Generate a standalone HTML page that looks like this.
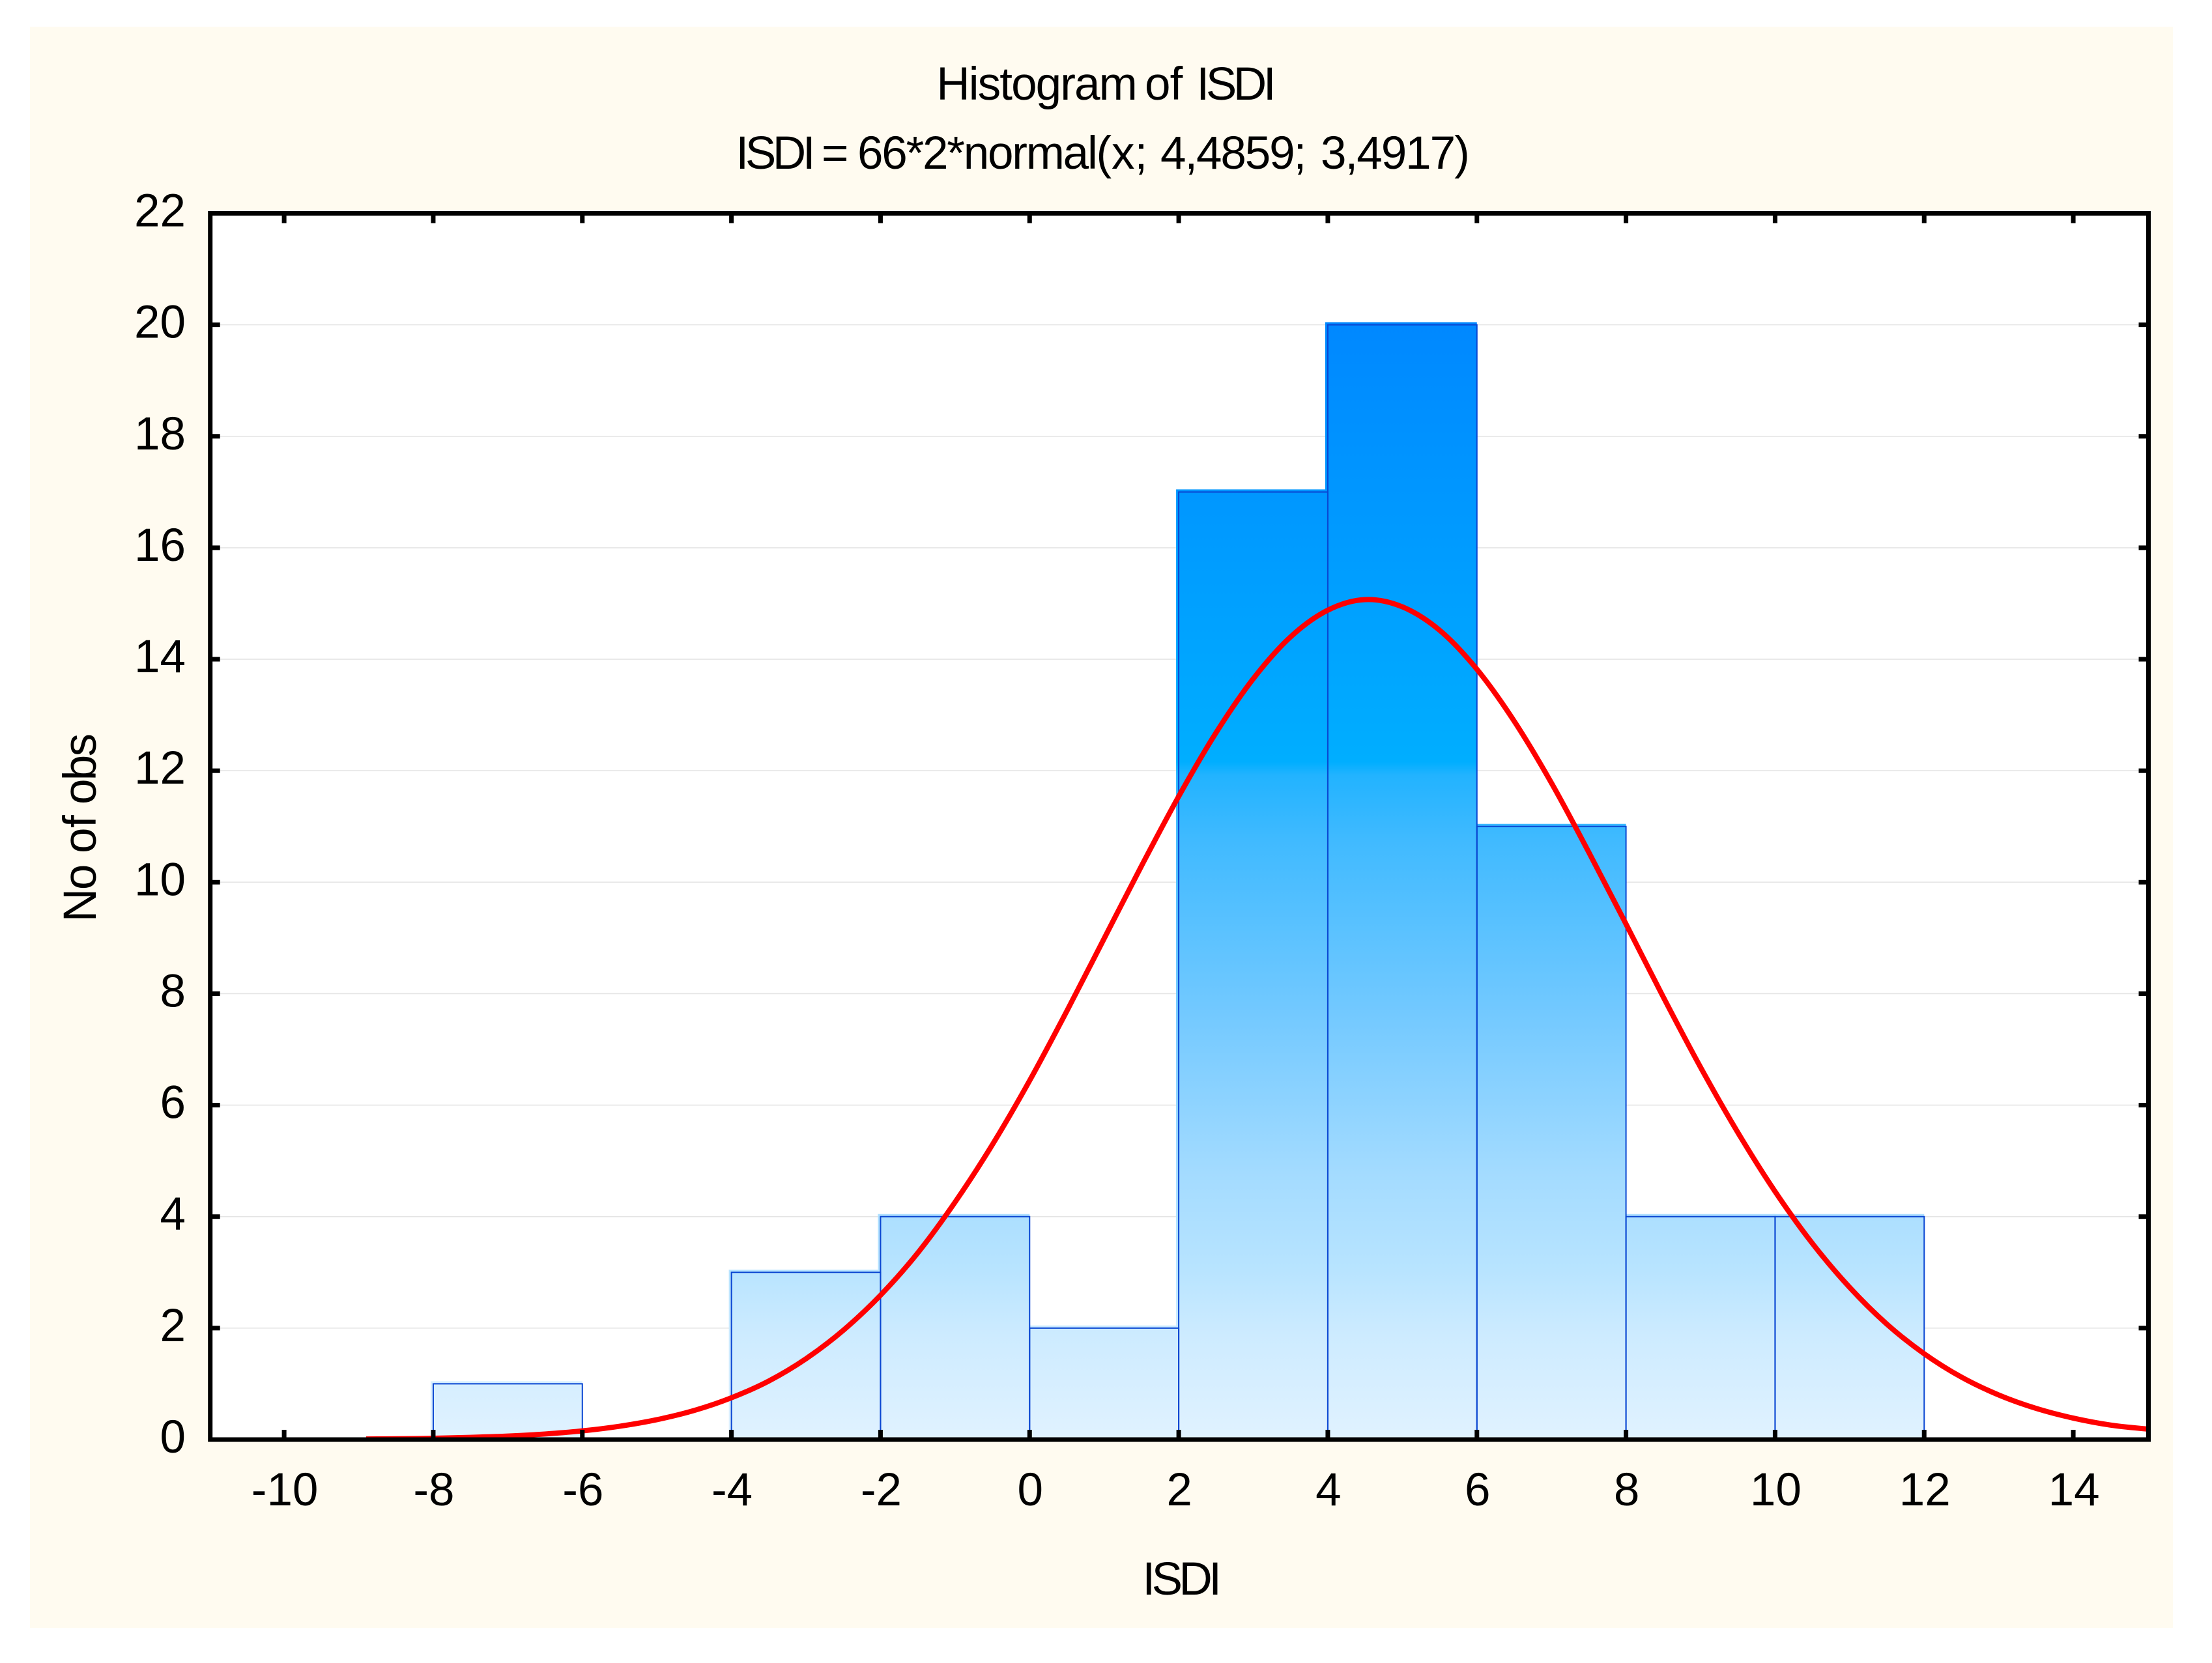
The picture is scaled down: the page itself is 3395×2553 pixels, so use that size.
<!DOCTYPE html>
<html lang="en">
<head>
<meta charset="utf-8">
<title>Histogram of ISDI</title>
<style>
  html, body { margin: 0; padding: 0; background: #ffffff; }
  svg { display: block; }
  text { font-family: "Liberation Sans", Arial, sans-serif; fill: #000; white-space: pre; }
</style>
</head>
<body>
<svg id="chart" xmlns="http://www.w3.org/2000/svg" width="3395" height="2553" viewBox="0 0 3395 2553">
  <defs>
    <linearGradient id="barFill" gradientUnits="userSpaceOnUse" x1="0" y1="498" x2="0" y2="2207">
      <stop offset="0" stop-color="#0088ff"/>
      <stop offset="0.393" stop-color="#00aeff"/>
      <stop offset="0.405" stop-color="#22b3ff"/>
      <stop offset="0.463" stop-color="#40baff"/>
      <stop offset="0.62" stop-color="#73c9ff"/>
      <stop offset="0.762" stop-color="#a3dbff"/>
      <stop offset="0.85" stop-color="#b8e4ff"/>
      <stop offset="0.908" stop-color="#cdebff"/>
      <stop offset="1" stop-color="#e0f2ff"/>
    </linearGradient>
    <clipPath id="plotClip"><rect x="322.7" y="327.5" width="2974.8" height="1882.5"/></clipPath>
  </defs>
  <rect x="0" y="0" width="3395" height="2553" fill="#ffffff"/>
  <rect x="46" y="41" width="3289" height="2458" fill="#fffbf0"/>
  <rect x="322.7" y="327.5" width="2974.8" height="1882.5" fill="#ffffff"/>

  <g id="grid"></g>
  <g id="bars"></g>
  <g id="curve" clip-path="url(#plotClip)"></g>
  <rect x="322.7" y="327.5" width="2974.8" height="1882.5" fill="none" stroke="#000" stroke-width="7"/>
  <g id="ticks"></g>
  <g id="xLabels"></g>
  <g id="yLabels"></g>

  <text y="153" font-size="71"><tspan x="1437.4" letter-spacing="-1.9">Histogram </tspan><tspan x="1757" letter-spacing="-0.8">of  </tspan><tspan x="1836.4" letter-spacing="-5.3">ISDI</tspan></text>
  <text y="259" font-size="71"><tspan x="1129.4" letter-spacing="-5.3">ISDI </tspan><tspan x="1261">= </tspan><tspan x="1316" letter-spacing="-2.2">66*2*normal(</tspan><tspan x="1706">x; </tspan><tspan x="1781" letter-spacing="-2.1">4,4859; </tspan><tspan x="2027" letter-spacing="-2">3,4917)</tspan></text>
  <text x="1753.4" y="2448" font-size="71" letter-spacing="-5.5">ISDI</text>
  <g transform="translate(147 1416) rotate(-90)">
    <text y="0" font-size="71"><tspan x="0.6" letter-spacing="-2">No </tspan><tspan x="106" letter-spacing="-0.5">of </tspan><tspan x="181" letter-spacing="-2.7">obs</tspan></text>
  </g>
</svg>

<script>
// ---- chart data ----
const binStarts = [-8, -4, -2, 0, 2, 4, 6, 8, 10];
const binWidth = 2;
const binCounts = [1, 3, 4, 2, 17, 20, 11, 4, 4];

const curveX = [-8.9, -8.5, -8, -7.5, -7, -6.5, -6, -5.5, -5, -4.5, -4, -3.5, -3, -2.5, -2, -1.5, -1, -0.5, 0, 0.5, 1, 1.5, 2, 2.5, 3, 3.5, 4, 4.5, 5, 5.5, 6, 6.5, 7, 7.5, 8, 8.5, 9, 9.5, 10, 10.5, 11, 11.5, 12, 12.5, 13, 13.5, 14, 14.5, 15];
const curveY = [0.01, 0.014, 0.023, 0.039, 0.063, 0.1, 0.156, 0.239, 0.357, 0.522, 0.75, 1.05, 1.45, 1.96, 2.59, 3.35, 4.26, 5.29, 6.44, 7.69, 8.99, 10.29, 11.54, 12.68, 13.65, 14.4, 14.88, 15.07, 14.94, 14.52, 13.82, 12.89, 11.78, 10.54, 9.25, 7.94, 6.68, 5.51, 4.45, 3.52, 2.73, 2.07, 1.54, 1.12, 0.8, 0.56, 0.385, 0.26, 0.187];

const xTickValues = [-10, -8, -6, -4, -2, 0, 2, 4, 6, 8, 10, 12, 14];
const xTickLabels = ['-10', '-8', '-6', '-4', '-2', '0', '2', '4', '6', '8', '10', '12', '14'];
const yTickValues = [0, 2, 4, 6, 8, 10, 12, 14, 16, 18, 20, 22];
const yTickLabels = ['0', '2', '4', '6', '8', '10', '12', '14', '16', '18', '20', '22'];

// ---- axes ----
const xDomain = [-11, 15];
const yDomain = [0, 22];
const plotBox = { left: 322.7, right: 3297.5, top: 327.5, bottom: 2210 };
const xPixelShift = -1;

function xScale(v) {
  return xPixelShift + plotBox.left + (v - xDomain[0]) / (xDomain[1] - xDomain[0]) * (plotBox.right - plotBox.left);
}
function yScale(v) {
  return plotBox.bottom - (v - yDomain[0]) / (yDomain[1] - yDomain[0]) * (plotBox.bottom - plotBox.top);
}

const NS = 'http://www.w3.org/2000/svg';
function make(tag, attrs, parentId) {
  const node = document.createElementNS(NS, tag);
  for (const key in attrs) node.setAttribute(key, attrs[key]);
  document.getElementById(parentId).appendChild(node);
  return node;
}

// ---- gridlines ----
yTickValues.forEach(function (v) {
  if (v === yDomain[0] || v === yDomain[1]) return;
  const line = make('line', { x1: plotBox.left + 15, x2: plotBox.right - 15, y1: yScale(v), y2: yScale(v), stroke: '#e4e4e4', 'stroke-width': 1.6 }, 'grid');
  
  
});

// ---- bars ----
binStarts.forEach(function (start, i) {
  const x0 = xScale(start);
  const x1 = xScale(start + binWidth);
  const yTop = yScale(binCounts[i]);
  const yBase = yScale(0);

  const fill = make('rect', { x: x0 - 4, y: yTop - 4, width: x1 - x0 + 4, height: yBase - yTop + 4, fill: 'url(#barFill)' }, 'bars');
  
  
});
binStarts.forEach(function (start, i) {
  const x0 = xScale(start);
  const x1 = xScale(start + binWidth);
  const yTop = yScale(binCounts[i]);
  const yBase = yScale(0);

  const edge = make('path', { d: 'M' + x0 + ' ' + yBase + 'L' + x0 + ' ' + yTop + 'L' + x1 + ' ' + yTop + 'L' + x1 + ' ' + yBase, fill: 'none', stroke: '#0a46d2', 'stroke-width': 2 }, 'bars');
  
  
});

// ---- fitted curve (smooth path through the read points) ----
(function () {
  const pts = curveX.map(function (v, i) { return [xScale(v), yScale(curveY[i])]; });
  let d = 'M' + pts[0][0] + ' ' + pts[0][1];
  for (let i = 0; i < pts.length - 1; i++) {
    const p0 = pts[Math.max(i - 1, 0)];
    const p1 = pts[i];
    const p2 = pts[i + 1];
    const p3 = pts[Math.min(i + 2, pts.length - 1)];
    const c1x = p1[0] + (p2[0] - p0[0]) / 6;
    const c1y = p1[1] + (p2[1] - p0[1]) / 6;
    const c2x = p2[0] - (p3[0] - p1[0]) / 6;
    const c2y = p2[1] - (p3[1] - p1[1]) / 6;
    d += 'C' + c1x + ' ' + c1y + ' ' + c2x + ' ' + c2y + ' ' + p2[0] + ' ' + p2[1];
  }
  const path = make('path', { d: d, fill: 'none', stroke: '#ff0000', 'stroke-width': 8, 'stroke-linejoin': 'round' }, 'curve');
  
  
})();

// ---- ticks and labels ----
const tickLen = 15;
xTickValues.forEach(function (v, i) {
  const x = xScale(v);
  const bottomTick = make('line', { x1: x, x2: x, y1: plotBox.bottom, y2: plotBox.bottom - tickLen, stroke: '#000', 'stroke-width': 7 }, 'ticks');
  
  

  const topTick = make('line', { x1: x, x2: x, y1: plotBox.top, y2: plotBox.top + tickLen, stroke: '#000', 'stroke-width': 7 }, 'ticks');
  
  

  const label = make('text', { x: x + 1, y: 2311, 'font-size': 71, 'text-anchor': 'middle' }, 'xLabels');
  label.textContent = xTickLabels[i];
  
  
});

yTickValues.forEach(function (v, i) {
  const y = yScale(v);
  const leftTick = make('line', { x1: plotBox.left, x2: plotBox.left + tickLen, y1: y, y2: y, stroke: '#000', 'stroke-width': 7 }, 'ticks');
  
  

  const rightTick = make('line', { x1: plotBox.right, x2: plotBox.right - tickLen, y1: y, y2: y, stroke: '#000', 'stroke-width': 7 }, 'ticks');
  
  

  const label = make('text', { x: 285, y: y + 20, 'font-size': 71, 'text-anchor': 'end' }, 'yLabels');
  label.textContent = yTickLabels[i];
  
  
});
</script>
</body>
</html>
